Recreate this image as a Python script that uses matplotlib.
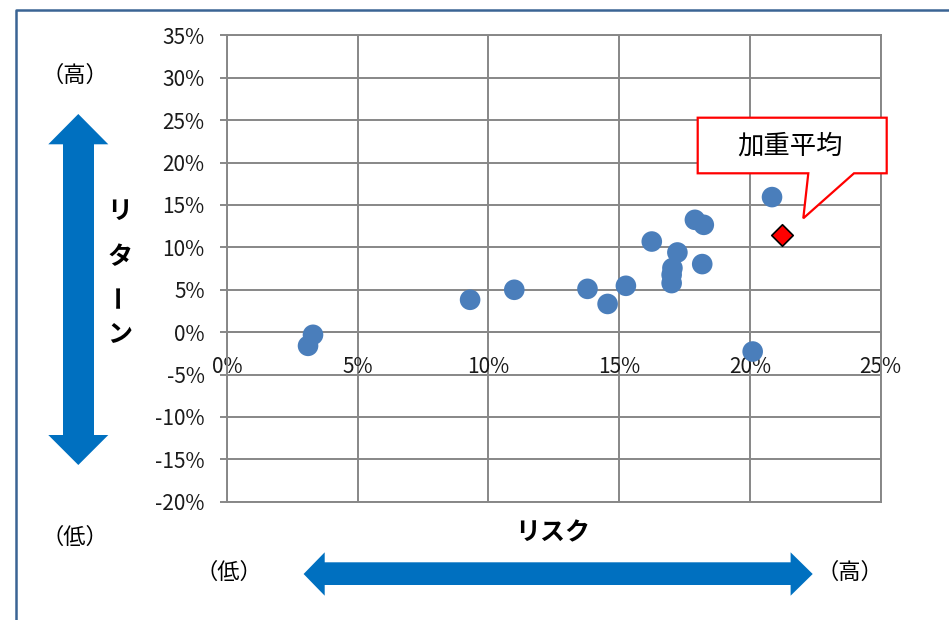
import matplotlib
matplotlib.use('Agg')
import matplotlib.pyplot as plt
from matplotlib.patches import Polygon
from matplotlib.lines import Line2D

plt.rcParams['font.family'] = ['Noto Sans CJK JP', 'DejaVu Sans']
plt.rcParams['axes.unicode_minus'] = False

W, H = 949, 620

# risk / return of each fund (fractions)
risk = [0.0329, 0.0310, 0.0930, 0.1099, 0.1379, 0.1456, 0.1526, 0.1625,
        0.1701, 0.1701, 0.1704, 0.1723, 0.1790, 0.1824, 0.1818, 0.2011, 0.2085]
ret = [-0.0032, -0.0162, 0.0381, 0.0499, 0.0510, 0.0332, 0.0546, 0.1068,
       0.0578, 0.0676, 0.0755, 0.0939, 0.1324, 0.1265, 0.0802, -0.0229, 0.1592]
avg_risk = [0.2123]
avg_ret = [0.1147]

x_ticks = [0.0, 0.05, 0.10, 0.15, 0.20, 0.25]
x_labels = ['0%', '5%', '10%', '15%', '20%', '25%']
y_ticks = [-0.20, -0.15, -0.10, -0.05, 0.0, 0.05, 0.10, 0.15, 0.20, 0.25, 0.30, 0.35]
y_labels = ['-20%', '-15%', '-10%', '-5%', '0%', '5%', '10%', '15%', '20%', '25%', '30%', '35%']

GRID = '#878787'
BLUE = '#0070C0'


def fp(x, y):
    # pixel position (from top-left) to figure fraction
    return (x / W, 1 - y / H)


fig = plt.figure(figsize=(W / 100, H / 100), dpi=100)

ax = fig.add_axes([227 / W, 1 - 501.7 / H, (880.5 - 227) / W, (501.7 - 35.3) / H])
ax.set_xlim(0, 0.25)
ax.set_ylim(-0.20, 0.35)
ax.set_xticks(x_ticks)
ax.set_xticklabels(x_labels)
ax.set_yticks(y_ticks)
ax.set_yticklabels(y_labels)
ax.grid(True, color=GRID, lw=1.4)
ax.set_axisbelow(True)
for s in ['left', 'top', 'right', 'bottom']:
    ax.spines[s].set_color(GRID)
    ax.spines[s].set_linewidth(1.4)
ax.spines['bottom'].set_position(('data', 0))
ax.axhline(-0.20, color=GRID, lw=1.4, clip_on=False)
ax.tick_params(axis='x', direction='out', length=5, width=1.4, color=GRID,
               labelsize=15, pad=12, labelcolor='#1a1a1a')
ax.tick_params(axis='y', direction='out', length=5, width=1.4, color=GRID,
               labelsize=15, pad=11, labelcolor='#1a1a1a')

ax.scatter(risk, ret, s=220, color='#4A7EBB', edgecolors='none', zorder=3)
ax.scatter(avg_risk, avg_ret, s=120, marker='D', color='#FF0000',
           edgecolors='black', linewidths=1.2, zorder=4)

# outer frame
fig.add_artist(Line2D([16 / W, 16 / W, 1.0], [0.0, 1 - 10 / H, 1 - 10 / H],
                      transform=fig.transFigure, color='#3A6494', lw=1.8))

# callout
callout = [(697.7, 117.7), (886.7, 117.7), (886.7, 173.3), (854, 173.3),
           (803.3, 218.3), (808.3, 173.3), (697.7, 173.3)]
fig.add_artist(Polygon([fp(*p) for p in callout], closed=True,
                       transform=fig.transFigure, facecolor='white',
                       edgecolor='#FF0000', lw=1.6, zorder=5))
fig.text(*fp(790, 146), '加重平均', fontsize=19, ha='center', va='center', zorder=6)

# vertical arrow
varrow = [(78.3, 114), (108.3, 144.3), (94, 144.3), (94, 435), (108.3, 435),
          (78.3, 465), (48.3, 435), (63, 435), (63, 144.3), (48.3, 144.3)]
fig.add_artist(Polygon([fp(*p) for p in varrow], closed=True,
                       transform=fig.transFigure, facecolor=BLUE, edgecolor='none'))

# horizontal arrow
harrow = [(303.6, 574), (324.7, 552.3), (324.7, 562.3), (790.6, 562.3),
          (790.6, 552.3), (812.7, 574), (790.6, 595.7), (790.6, 585),
          (324.7, 585), (324.7, 595.7)]
fig.add_artist(Polygon([fp(*p) for p in harrow], closed=True,
                       transform=fig.transFigure, facecolor=BLUE, edgecolor='none'))

# labels
fig.text(*fp(75, 75), '（高）', fontsize=16, ha='center', va='center')
fig.text(*fp(75, 537), '（低）', fontsize=16, ha='center', va='center')
fig.text(*fp(229, 572), '（低）', fontsize=16, ha='center', va='center')
fig.text(*fp(850, 572), '（高）', fontsize=16, ha='center', va='center')
fig.text(*fp(553, 533), 'リスク', fontsize=18, fontweight='bold', ha='center', va='center')

for ch, yy in zip('リターン', [212, 257, 296, 334]):
    fig.text(*fp(120, yy), ch, fontsize=18, fontweight='bold', ha='center',
             va='center', rotation=90 if ch == 'ー' else 0)

fig.savefig('out.png', dpi=100)
